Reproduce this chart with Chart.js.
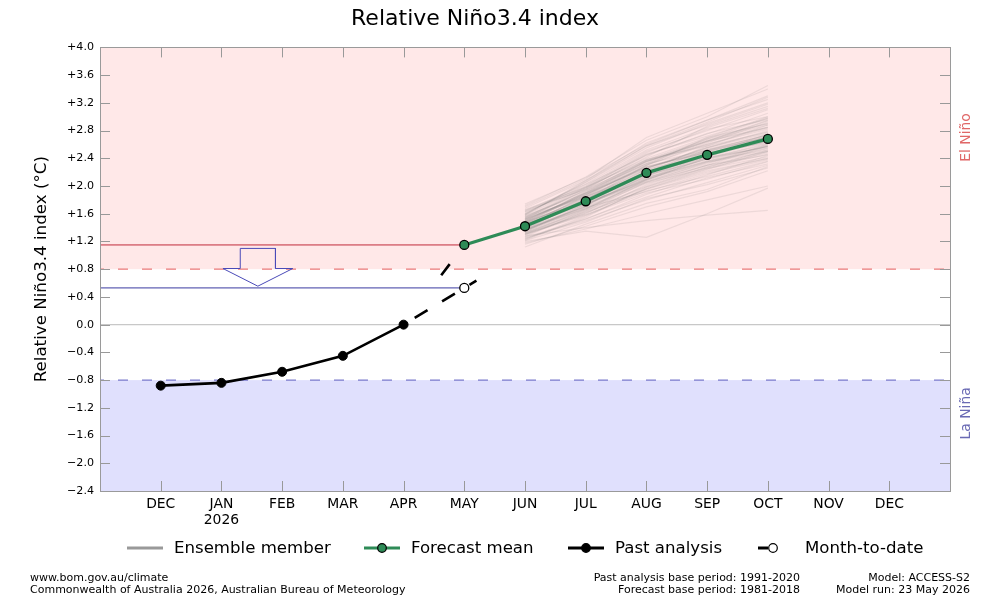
<!DOCTYPE html>
<html>
<head>
<meta charset="utf-8">
<script src="https://cdn.jsdelivr.net/npm/chart.js@4.4.1/dist/chart.umd.min.js"></script>
<style>
  html, body { margin: 0; padding: 0; background: #fff; }
  #wrap { position: relative; width: 982px; height: 613px; font-family: "DejaVu Sans", sans-serif; }
  canvas { position: absolute; left: 0; top: 0; }
  .lg { position: absolute; top: 538px; height: 20px; line-height: 20px; font-size: 16.6px; color: #000; white-space: nowrap; }
  .sw { position: absolute; top: 538px; }
  .ft { position: absolute; font-size: 11px; line-height: 12px; color: #000; white-space: nowrap; }
  .r { text-align: right; }
</style>
</head>
<body>
<div id="wrap">
  <canvas id="c" width="982" height="613"></canvas>

  <svg class="sw" style="left:125px" width="40" height="20"><line x1="2" y1="10" x2="38" y2="10" stroke="#999" stroke-width="3"/></svg>
  <div class="lg" style="left:174px">Ensemble member</div>
  <svg class="sw" style="left:362px" width="40" height="20"><line x1="2" y1="10" x2="38" y2="10" stroke="#2e8b57" stroke-width="3"/><circle cx="20" cy="10" r="4.3" fill="#2e8b57" stroke="#000" stroke-width="1.2"/></svg>
  <div class="lg" style="left:411px">Forecast mean</div>
  <svg class="sw" style="left:566px" width="40" height="20"><line x1="2" y1="10" x2="38" y2="10" stroke="#000" stroke-width="3"/><circle cx="20" cy="10" r="4.3" fill="#000" stroke="#000" stroke-width="1.2"/></svg>
  <div class="lg" style="left:615px">Past analysis</div>
  <svg class="sw" style="left:756px" width="40" height="20"><line x1="2" y1="10" x2="12" y2="10" stroke="#000" stroke-width="3"/><circle cx="17" cy="10" r="4.3" fill="#fff" stroke="#000" stroke-width="1.2"/></svg>
  <div class="lg" style="left:805px">Month-to-date</div>

  <div class="ft" style="left:30px; top:572px">www.bom.gov.au/climate<br>Commonwealth of Australia 2026, Australian Bureau of Meteorology</div>
  <div class="ft r" style="right:182px; top:572px">Past analysis base period: 1991-2020<br>Forecast base period: 1981-2018</div>
  <div class="ft r" style="right:12px; top:572px">Model: ACCESS-S2<br>Model run: 23 May 2026</div>
</div>

<script>
// ---------------- DATA ----------------
const monthLabels = ['DEC','JAN','FEB','MAR','APR','MAY','JUN','JUL','AUG','SEP','OCT','NOV','DEC'];
const yearLabels  = ['', '2026', '', '', '', '', '', '', '', '', '', '', ''];
const yTickValues = [-2.4,-2.0,-1.6,-1.2,-0.8,-0.4,0.0,0.4,0.8,1.2,1.6,2.0,2.4,2.8,3.2,3.6,4.0];
const yTickLabels = ['\u22122.4','\u22122.0','\u22121.6','\u22121.2','\u22120.8','\u22120.4','0.0','+0.4','+0.8','+1.2','+1.6','+2.0','+2.4','+2.8','+3.2','+3.6','+4.0'];

const pastMonths   = [0, 1, 2, 3, 4];            // DEC .. APR
const pastAnalysis = [-0.88, -0.84, -0.68, -0.45, 0.00];

const mtdMonth = 5;                               // MAY (month-to-date)
const monthToDate = 0.53;

const forecastMonths = [5, 6, 7, 8, 9, 10];       // MAY .. OCT
const forecastMean   = [1.15, 1.42, 1.78, 2.19, 2.45, 2.68];

const ensembleMonths = [6, 7, 8, 9, 10];          // JUN .. OCT
const ensembleMembers = [
  [1.45,1.85,2.30,2.60,2.85],[1.38,1.70,2.05,2.30,2.50],[1.52,1.95,2.45,2.75,3.05],
  [1.30,1.62,1.95,2.20,2.40],[1.60,2.05,2.55,2.90,3.20],[1.42,1.78,2.20,2.42,2.65],
  [1.25,1.50,1.80,2.05,2.30],[1.48,1.88,2.35,2.65,2.95],[1.35,1.72,2.15,2.40,2.60],
  [1.55,1.98,2.40,2.70,2.90],[1.20,1.35,1.26,1.60,1.97],[1.28,1.40,1.50,1.58,1.65],
  [1.70,2.10,2.70,3.05,3.40],[1.40,1.80,2.25,2.55,2.80],[1.33,1.65,2.00,2.28,2.48],
  [1.50,1.90,2.28,2.50,2.72],[1.45,1.75,2.10,2.35,2.55],[1.62,2.00,2.50,2.80,3.10],
  [1.38,1.68,2.10,2.45,2.75],[1.12,1.45,1.75,1.95,2.28],[1.47,1.92,2.38,2.58,2.78],
  [1.55,1.85,2.20,2.48,2.62],[1.30,1.58,1.90,2.10,2.35],[1.58,2.08,2.62,2.95,3.25],
  [1.42,1.82,2.18,2.50,2.70],[1.36,1.74,2.12,2.36,2.52],[1.65,1.95,2.35,2.65,2.85],
  [1.22,1.55,1.98,2.25,2.42],[1.50,1.86,2.30,2.62,2.92],[1.44,1.76,2.08,2.32,2.60],
  [1.40,1.70,2.25,2.55,2.76],[1.53,1.97,2.48,2.82,3.00],[1.32,1.60,2.02,2.30,2.45],
  [1.46,1.83,2.24,2.44,2.68],[1.18,1.38,1.60,1.80,2.00],[1.74,2.12,2.60,2.95,3.30],
  [1.39,1.79,2.16,2.38,2.58],[1.48,1.80,2.30,2.70,3.00],[1.27,1.64,2.06,2.34,2.54],
  [1.56,1.93,2.32,2.52,2.74],[1.43,1.73,2.14,2.46,2.66],[1.35,1.69,1.92,2.18,2.38],
  [1.60,2.02,2.44,2.76,2.96],[1.41,1.87,2.28,2.48,2.64],[1.49,1.77,2.22,2.58,2.88],
  [1.31,1.66,2.09,2.40,2.62],[1.57,1.90,2.36,2.64,2.84],[1.37,1.81,2.19,2.41,2.56],
  [1.63,1.96,2.42,2.86,3.15],[1.26,1.52,1.88,2.16,2.44],[1.51,1.89,2.26,2.52,2.70],
  [1.44,1.84,2.26,2.56,2.78],[1.34,1.67,2.04,2.26,2.46],[1.58,1.99,2.46,2.72,2.98],
  [1.29,1.61,1.96,2.24,2.50],[1.68,2.08,2.58,2.88,3.18],[1.40,1.76,2.16,2.44,2.69],
  [1.24,1.53,1.84,2.12,2.32],[1.46,1.90,2.33,2.68,2.98],[1.36,1.71,2.12,2.36,2.58],
  [1.54,1.94,2.37,2.66,2.88],[1.16,1.42,1.70,1.92,2.22],[1.72,2.13,2.66,3.00,3.45],
  [1.43,1.81,2.21,2.51,2.74],[1.33,1.63,1.99,2.27,2.52],[1.51,1.88,2.27,2.49,2.71],
  [1.47,1.78,2.13,2.39,2.57],[1.64,2.03,2.52,2.84,3.12],[1.37,1.67,2.08,2.42,2.72],
  [1.21,1.48,1.82,2.02,2.26],[1.49,1.91,2.36,2.60,2.82],[1.53,1.84,2.18,2.46,2.64],
  [1.31,1.59,1.93,2.14,2.36],[1.59,2.06,2.58,2.92,3.28],[1.41,1.80,2.20,2.53,2.73],
  [1.35,1.73,2.10,2.34,2.50],[1.66,1.98,2.38,2.68,2.90],[1.23,1.57,1.96,2.22,2.40],
  [1.52,1.87,2.32,2.64,2.94],[1.45,1.74,2.06,2.30,2.58]
];

const elNinoThreshold = 0.8;
const laNinaThreshold = -0.8;

// ---------------- BUILD ----------------
Chart.defaults.font.family = "'DejaVu Sans', sans-serif";
Chart.defaults.color = '#000';

const pts = (xs, ys) => xs.map((x, i) => ({ x: x, y: ys[i] }));
const aprVal = pastAnalysis[pastAnalysis.length - 1];
const aprMonth = pastMonths[pastMonths.length - 1];
const mayFc = forecastMean[0];

// Dashed trail APR -> month-to-date, extended a little past it
const trailExt = 0.2;
const mtdTrail = [
  { x: aprMonth, y: aprVal },
  { x: mtdMonth, y: monthToDate },
  { x: mtdMonth + trailExt, y: monthToDate + (monthToDate - aprVal) * trailExt }
];
// Partial dashed link towards May forecast
const linkStart = 0.62;
const fcLink = [
  { x: aprMonth + (mtdMonth - aprMonth) * linkStart, y: aprVal + (mayFc - aprVal) * linkStart },
  { x: mtdMonth, y: mayFc }
];

// Hollow arrow from the May forecast level down to the month-to-date level
const aCx = 1.6, shaftHW = 0.29, headHW = 0.575;
const aTop = mayFc - 0.05, aBase = elNinoThreshold + 0.01, aTip = monthToDate + 0.025;
const arrow = [
  { x: aCx - shaftHW, y: aTop }, { x: aCx + shaftHW, y: aTop }, { x: aCx + shaftHW, y: aBase },
  { x: aCx + headHW, y: aBase }, { x: aCx, y: aTip }, { x: aCx - headHW, y: aBase },
  { x: aCx - shaftHW, y: aBase }, { x: aCx - shaftHW, y: aTop }
];

const datasets = [];
ensembleMembers.forEach((m, k) => {
  datasets.push({
    label: 'Ensemble member', data: pts(ensembleMonths, m),
    borderColor: 'rgba(105,105,105,0.12)', borderWidth: 1.2, pointRadius: 0, order: 50
  });
});
datasets.push({
  label: 'May forecast level', data: [{ x: -1, y: mayFc }, { x: mtdMonth, y: mayFc }],
  borderColor: '#c02a3a', borderWidth: 1, pointRadius: 0, order: 60
});
datasets.push({
  label: 'Month-to-date level', data: [{ x: -1, y: monthToDate }, { x: mtdMonth, y: monthToDate }],
  borderColor: '#3a3aa0', borderWidth: 1, pointRadius: 0, order: 60
});
datasets.push({
  label: 'Arrow', data: arrow, borderColor: '#4a4ab8', borderWidth: 1, pointRadius: 0, order: 55
});
datasets.push({
  label: 'Link', data: fcLink, borderColor: '#000', borderWidth: 2.6, borderDash: [14, 21],
  pointRadius: 0, order: 20
});
datasets.push({
  label: 'Month-to-date', data: mtdTrail, borderColor: '#000', borderWidth: 2.6,
  borderDash: [15, 17], borderDashOffset: 19,
  pointRadius: [0, 4.5, 0], pointBackgroundColor: '#fff', pointBorderColor: '#000', pointBorderWidth: 1.3,
  order: 10
});
datasets.push({
  label: 'Forecast mean', data: pts(forecastMonths, forecastMean), borderColor: '#2e8b57', borderWidth: 3.2,
  pointRadius: 4.5, pointBackgroundColor: '#2e8b57', pointBorderColor: '#000', pointBorderWidth: 1.3, order: 5
});
datasets.push({
  label: 'Past analysis', data: pts(pastMonths, pastAnalysis), borderColor: '#000', borderWidth: 2.6,
  pointRadius: 4.5, pointBackgroundColor: '#000', pointBorderColor: '#000', pointBorderWidth: 1, order: 4
});

const decor = {
  id: 'decor',
  beforeDatasetsDraw(chart) {
    const { ctx, chartArea: a, scales: { x, y } } = chart;
    const yE = y.getPixelForValue(elNinoThreshold), yL = y.getPixelForValue(laNinaThreshold), y0 = y.getPixelForValue(0);
    ctx.save();
    ctx.fillStyle = 'rgb(255,232,232)';
    ctx.fillRect(a.left, a.top, a.right - a.left, yE - a.top);
    ctx.fillStyle = 'rgb(224,224,253)';
    ctx.fillRect(a.left, yL, a.right - a.left, a.bottom - yL);
    ctx.lineWidth = 1.3;
    ctx.strokeStyle = '#c8c8c8';
    ctx.beginPath(); ctx.moveTo(a.left, y0); ctx.lineTo(a.right, y0); ctx.stroke();
    ctx.setLineDash([10, 14]); ctx.lineDashOffset = -18;
    ctx.strokeStyle = '#ea7a7a';
    ctx.beginPath(); ctx.moveTo(a.left, yE); ctx.lineTo(a.right, yE); ctx.stroke();
    ctx.strokeStyle = '#7a7acc';
    ctx.beginPath(); ctx.moveTo(a.left, yL); ctx.lineTo(a.right, yL); ctx.stroke();
    ctx.restore();
  },
  afterDatasetsDraw(chart) {
    const { ctx, chartArea: a, scales: { x, y } } = chart;
    ctx.save();
    ctx.strokeStyle = '#999';
    ctx.lineWidth = 1;
    ctx.beginPath();
    yTickValues.forEach(v => {
      const p = Math.round(y.getPixelForValue(v)) + 0.5;
      ctx.moveTo(a.left, p); ctx.lineTo(a.left + 10, p);
      ctx.moveTo(a.right, p); ctx.lineTo(a.right - 10, p);
    });
    monthLabels.forEach((m, i) => {
      const p = Math.round(x.getPixelForValue(i)) + 0.5;
      ctx.moveTo(p, a.bottom); ctx.lineTo(p, a.bottom - 10);
      ctx.moveTo(p, a.top); ctx.lineTo(p, a.top + 10);
    });
    ctx.stroke();
    ctx.strokeStyle = '#9a9a9a';
    ctx.strokeRect(Math.round(a.left) + 0.5, Math.round(a.top) + 0.5, Math.round(a.right - a.left), Math.round(a.bottom - a.top));
    // side labels
    ctx.font = "13.9px 'DejaVu Sans'";
    ctx.textAlign = 'center'; ctx.textBaseline = 'middle';
    ctx.translate(a.right + 16, y.getPixelForValue(2.7));
    ctx.rotate(-Math.PI / 2);
    ctx.fillStyle = '#e06868';
    ctx.fillText('El Niño', 0, 0);
    ctx.rotate(Math.PI / 2);
    ctx.translate(0, y.getPixelForValue(-1.28) - y.getPixelForValue(2.7));
    ctx.rotate(-Math.PI / 2);
    ctx.fillStyle = '#6a6ab4';
    ctx.fillText('La Niña', 0, 0);
    ctx.restore();
  }
};

new Chart(document.getElementById('c'), {
  type: 'line',
  data: { datasets: datasets },
  plugins: [decor],
  options: {
    responsive: false,
    animation: false,
    events: [],
    layout: { padding: { left: 0, right: 32, top: 0, bottom: 82 } },
    elements: { line: { tension: 0, fill: false } },
    plugins: {
      legend: { display: false },
      tooltip: { enabled: false },
      title: {
        display: true, text: 'Relative Niño3.4 index', color: '#000',
        font: { size: 22, weight: 'normal' }, padding: { top: 6, bottom: 15 }
      }
    },
    scales: {
      x: {
        type: 'linear', min: -1, max: 13,
        grid: { display: false, drawTicks: false }, border: { display: false },
        afterBuildTicks(s) { s.ticks = monthLabels.map((m, i) => ({ value: i })); },
        afterFit(s) { s.height = 40; },
        ticks: {
          autoSkip: false, maxRotation: 0, padding: 6,
          font: { size: 13.9, lineHeight: 1.1 }, color: '#000',
          callback(v) { const i = Math.round(v); return yearLabels[i] ? [monthLabels[i], yearLabels[i]] : monthLabels[i]; }
        }
      },
      y: {
        type: 'linear', min: -2.4, max: 4.0,
        grid: { display: false, drawTicks: false }, border: { display: false },
        afterBuildTicks(s) { s.ticks = yTickValues.map(v => ({ value: v })); },
        afterFit(s) { s.width = 100; },
        ticks: {
          padding: 6, font: { size: 11.1 }, color: '#000', autoSkip: false,
          callback(v) { const i = yTickValues.findIndex(t => Math.abs(t - v) < 1e-6); return yTickLabels[i]; }
        },
        title: {
          display: true, text: 'Relative Niño3.4 index (°C)', color: '#000',
          font: { size: 16.7, weight: 'normal' }, padding: { top: 32, bottom: 0 }
        }
      }
    }
  }
});
</script>
</body>
</html>
